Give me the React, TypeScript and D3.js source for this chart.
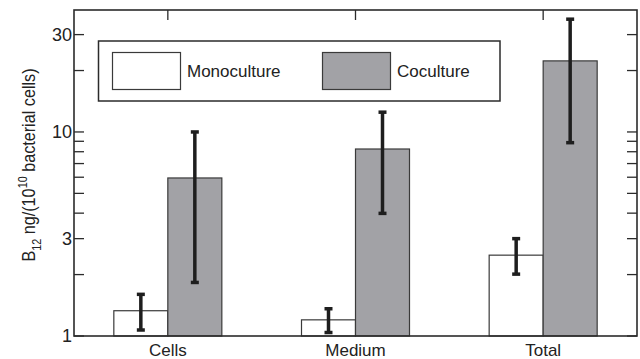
import React from "react";
import * as d3 from "d3";

const categories = ["Cells", "Medium", "Total"];
const seriesNames = ["Monoculture", "Coculture"];
const monoculture = [1.33, 1.2, 2.49];
const monoLow = [1.07, 1.04, 2.01];
const monoHigh = [1.6, 1.36, 3.0];
const coculture = [5.95, 8.25, 22.3];
const cocLow = [1.83, 3.99, 8.86];
const cocHigh = [10.0, 12.5, 35.7];
const majorTicks = [1, 3, 10, 30];
const minorTicks = [2, 4, 5, 6, 7, 8, 9, 20];

const W = 640;
const H = 359;
const L = 74;
const R = 637;
const T = 10;
const B = 336;
const FONT = "'Liberation Sans', Arial, sans-serif";
const FRAME = "#2b2b2b";
const GRAY = "#a2a2a6";

export default function App() {
  const y = d3.scaleLog().domain([1, 39.6]).range([B, T]);
  const x0 = d3
    .scaleBand<string>()
    .domain(categories)
    .range([L, R])
    .paddingInner(0.4245)
    .paddingOuter(0.21225);
  const x1 = d3.scaleBand<string>().domain(seriesNames).range([0, x0.bandwidth()]);

  const series = [
    { name: "Monoculture", vals: monoculture, lo: monoLow, hi: monoHigh, fill: "#ffffff" },
    { name: "Coculture", vals: coculture, lo: cocLow, hi: cocHigh, fill: GRAY },
  ];
  const tickLen = 10;
  const cap = 4;

  return (
    <div style={{ position: "fixed", left: 0, top: 0 }}>
      <svg width={W} height={H} style={{ display: "block" }} fontFamily={FONT}>
        <rect x={0} y={0} width={W} height={H} fill="#fff" />
        {/* bars */}
        {series.map((s) =>
          categories.map((c, i) => {
            const bx = (x0(c) as number) + (x1(s.name) as number);
            const by = y(s.vals[i]);
            return (
              <rect
                key={s.name + c}
                x={bx}
                y={by}
                width={x1.bandwidth()}
                height={B - by}
                fill={s.fill}
                stroke="#3a3a3a"
                strokeWidth={1.2}
              />
            );
          })
        )}
        {/* error bars */}
        {series.map((s) =>
          categories.map((c, i) => {
            const cx = (x0(c) as number) + (x1(s.name) as number) + x1.bandwidth() / 2;
            const y1 = y(s.hi[i]);
            const y2 = y(s.lo[i]);
            return (
              <g key={"e" + s.name + c} stroke="#1e1e1e" strokeWidth={3.5}>
                <line x1={cx} x2={cx} y1={y1} y2={y2} />
                <line x1={cx - cap} x2={cx + cap} y1={y1} y2={y1} />
                <line x1={cx - cap} x2={cx + cap} y1={y2} y2={y2} />
              </g>
            );
          })
        )}
        {/* frame */}
        <rect x={L} y={T} width={R - L} height={B - T} fill="none" stroke={FRAME} strokeWidth={1.6} />
        {/* y ticks */}
        {majorTicks.concat(minorTicks).map((t) => (
          <g key={"t" + t} stroke={FRAME} strokeWidth={1.3}>
            <line x1={L} x2={L + tickLen} y1={y(t)} y2={y(t)} />
            <line x1={R} x2={R - tickLen} y1={y(t)} y2={y(t)} />
          </g>
        ))}
        {majorTicks.map((t) => (
          <text
            key={"l" + t}
            x={L - 2}
            y={y(t)}
            dy="0.36em"
            textAnchor="end"
            fontSize={18}
            fill="#222"
          >
            {t}
          </text>
        ))}
        {/* x ticks and labels */}
        {categories.map((c) => {
          const cx = (x0(c) as number) + x0.bandwidth() / 2;
          return (
            <g key={"x" + c}>
              <line x1={cx} x2={cx} y1={T} y2={T + tickLen} stroke={FRAME} strokeWidth={1.3} />
              <text x={cx} y={356} textAnchor="middle" fontSize={17} fill="#222">
                {c}
              </text>
            </g>
          );
        })}
        {/* y label */}
        <text
          transform="translate(34.5,165) rotate(-90) scale(0.9,1)"
          textAnchor="middle"
          fontSize={18}
          fill="#222"
        >
          <tspan>B</tspan>
          <tspan fontSize={12} dy={6}>12</tspan>
          <tspan dy={-6}> ng/(10</tspan>
          <tspan fontSize={12} dy={-8}>10</tspan>
          <tspan dy={8}> bacterial cells)</tspan>
        </text>
        {/* legend */}
        <rect x={98.5} y={41} width={401.5} height={60} fill="#fff" stroke={FRAME} strokeWidth={1.5} />
        <rect x={112.5} y={52.5} width={68} height={37} fill="#fff" stroke="#3a3a3a" strokeWidth={1.2} />
        <text x={187} y={71} dy="0.35em" fontSize={17} fill="#222">
          Monoculture
        </text>
        <rect x={322.5} y={52.5} width={68} height={37} fill={GRAY} stroke="#3a3a3a" strokeWidth={1.2} />
        <text x={397} y={71} dy="0.35em" fontSize={17} fill="#222">
          Coculture
        </text>
      </svg>
    </div>
  );
}
